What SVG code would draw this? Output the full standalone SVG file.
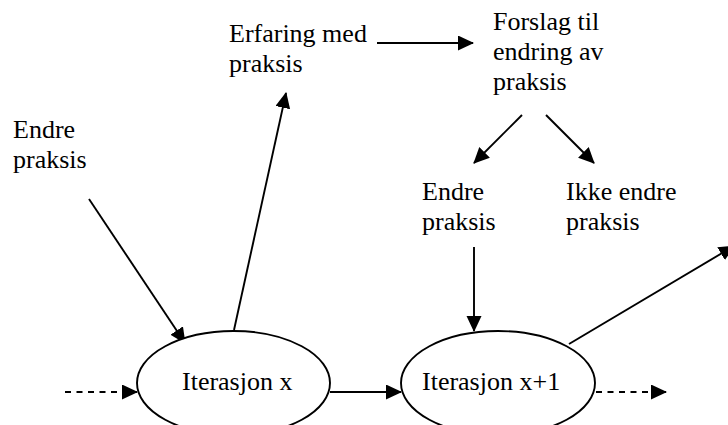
<svg xmlns="http://www.w3.org/2000/svg" width="728" height="425" viewBox="0 0 728 425">
  <style>
    text { font-family: "Liberation Serif", "Times New Roman", serif; font-size: 26px; fill: #000; }
    .edge { stroke: #000; stroke-width: 1.9; fill: none; marker-end: url(#head); }
    .dash { stroke-dasharray: 6 5.5; }
    .node-shape { fill: #fff; stroke: #000; stroke-width: 1.9; }
  </style>
  <defs>
    <marker id="head" markerUnits="userSpaceOnUse" markerWidth="17" markerHeight="17" refX="15" refY="7.5" orient="auto">
      <path d="M0,0 L16,7.5 L0,15 z" fill="#000"/>
    </marker>
  </defs>
  <rect width="728" height="425" fill="#fff"/>

  <g id="connectors">
    <line class="edge" x1="377" y1="43" x2="473" y2="43"/>
    <line class="edge" x1="522" y1="115" x2="474" y2="163"/>
    <line class="edge" x1="546" y1="115" x2="594" y2="163"/>
    <line class="edge" x1="474" y1="247" x2="474" y2="331"/>
    <line class="edge" x1="89" y1="199" x2="185" y2="343"/>
    <line class="edge" x1="234" y1="330" x2="286" y2="93"/>
    <line class="edge" x1="569" y1="344" x2="734" y2="246"/>
    <line class="edge dash" x1="65" y1="392" x2="137" y2="392"/>
    <line class="edge" x1="330" y1="392" x2="401" y2="392"/>
    <line class="edge dash" x1="596" y1="392" x2="666" y2="392"/>
  </g>

  <g id="iterasjon-x">
    <ellipse class="node-shape" cx="233.5" cy="383" rx="96.5" ry="52"/>
    <text x="182" y="390">Iterasjon x</text>
  </g>
  <g id="iterasjon-x1">
    <ellipse class="node-shape" cx="498" cy="383" rx="97" ry="52"/>
    <text x="422" y="390">Iterasjon x+1</text>
  </g>

  <g id="endre-praksis-1">
    <text x="13" y="138">Endre</text>
    <text x="13" y="168">praksis</text>
  </g>
  <g id="erfaring">
    <text x="229" y="42">Erfaring med</text>
    <text x="229" y="72">praksis</text>
  </g>
  <g id="forslag">
    <text x="493" y="30">Forslag til</text>
    <text x="493" y="60">endring av</text>
    <text x="493" y="90">praksis</text>
  </g>
  <g id="endre-praksis-2">
    <text x="422" y="200">Endre</text>
    <text x="422" y="230">praksis</text>
  </g>
  <g id="ikke-endre">
    <text x="566" y="200">Ikke endre</text>
    <text x="566" y="230">praksis</text>
  </g>
</svg>
